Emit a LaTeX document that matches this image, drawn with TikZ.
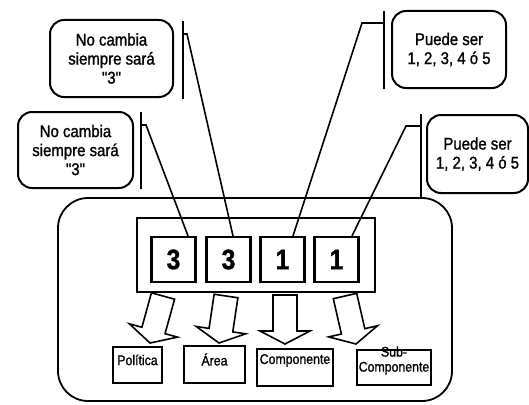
\documentclass[tikz,border=0pt]{standalone}
\usepackage{fontspec}
\setmainfont{Liberation Sans}
\newfontfamily\narrowsf{Liberation Sans}[FakeStretch=0.88,FakeBold=1.2]
\usetikzlibrary{calc}

\newcommand{\blockarrow}[2]{%
  \coordinate (h) at ($(#2)!13pt!(#1)$);
  \draw[blk] ($(#1)!12pt!90:(#2)$) -- ($(h)!12pt!90:(#2)$) -- ($(h)!25pt!90:(#2)$) -- (#2)
    -- ($(h)!25pt!-90:(#2)$) -- ($(h)!12pt!-90:(#2)$) -- ($(#1)!12pt!-90:(#2)$) -- cycle;}

\begin{document}
\begin{tikzpicture}[x=1pt,y=-1pt,
    callout/.style={draw,line width=2pt,rounded corners=14pt,align=center,inner sep=0pt,
      font=\narrowsf\fontsize{17}{19}\selectfont},
    accent/.style={line width=1.8pt},
    leader/.style={line width=1.6pt},
    digit/.style={draw,line width=2.2pt,minimum width=44pt,minimum height=45pt,inner sep=0pt,
      font=\narrowsf\bfseries\fontsize{28}{30}\selectfont},
    part/.style={draw,line width=1.6pt,inner sep=0pt},
    partlbl/.style={align=center,inner sep=0pt,font=\narrowsf\fontsize{14}{15}\selectfont},
    blk/.style={draw,line width=1.6pt,fill=white,line join=miter}]

  \useasboundingbox (0,0) rectangle (529,404);

  \node[draw,line width=1.8pt,rounded corners=30pt,minimum width=394pt,minimum height=203pt] (frame) at (255,299.5) {};
  \node[draw,line width=1.8pt,minimum width=238pt,minimum height=74pt] (reg) at (256,255) {};

  \node[digit] (d1) at (173.5,259.5) {3};
  \node[digit] (d2) at (228.5,259.5) {3};
  \node[digit] (d3) at (282.5,259.5) {1};
  \node[digit] (d4) at (336.5,259.5) {1};

  \node[part,minimum width=49pt,minimum height=36pt,label={[partlbl,yshift=5pt]center:Política}] (pol) at (137.5,365) {};
  \node[part,minimum width=61pt,minimum height=37pt,label={[partlbl,yshift=5pt]center:Área}] (area) at (214.5,364.5) {};
  \node[part,minimum width=76pt,minimum height=37pt,label={[partlbl,yshift=7pt]center:Componente}] (comp) at (295,367.5) {};
  \node[part,minimum width=74pt,minimum height=35pt,label={[partlbl,yshift=7pt]center:{Sub-\\Componente}}] (sub) at (394,367.5) {};

  \coordinate (a1) at (163,296); \coordinate (t1) at (150,343);
  \coordinate (a2) at (226,296); \coordinate (t2) at (219,343);
  \coordinate (a3) at (285,295); \coordinate (t3) at (285,344);
  \coordinate (a4) at (345,296); \coordinate (t4) at (356,344);
  \blockarrow{a1}{t1}
  \blockarrow{a2}{t2}
  \blockarrow{a3}{t3}
  \blockarrow{a4}{t4}

  \node[callout,minimum width=123pt,minimum height=77pt] (c1) at (111.5,58.5) {No cambia\\siempre sará\\"3"};
  \node[callout,minimum width=115pt,minimum height=76pt] (c2) at (75.5,150) {No cambia\\siempre sará\\"3"};
  \node[callout,minimum width=114pt,minimum height=77pt] (c3) at (449,49.5) {Puede ser\\1, 2, 3, 4 ó 5};
  \node[callout,minimum width=101pt,minimum height=78pt] (c4) at (477.5,154) {Puede ser\\1, 2, 3, 4 ó 5};

  \draw[accent] ([xshift=9pt,yshift=-2pt]c1.north east) -- ([xshift=9pt,yshift=-1pt]c1.south east);
  \draw[accent] ([xshift=7pt,yshift=-1pt]c2.north east) -- ([xshift=7pt]c2.south east);
  \draw[accent] ([xshift=-7pt,yshift=-1pt]c3.north west) -- ([xshift=-7pt]c3.south west);
  \draw[accent] ([xshift=-5pt]c4.north west) -- ([xshift=-5pt,yshift=-4pt]c4.south west);

  \draw[leader] ([xshift=9pt,yshift=-15pt]c1.north east) -- ++(4,0) -- ([xshift=4.5pt]d2.north);
  \draw[leader] ([xshift=7pt,yshift=-14pt]c2.north east) -- ++(5,0) -- ([xshift=14.5pt]d1.north);
  \draw[leader] ([xshift=-7pt,yshift=-13pt]c3.north west) -- ++(-22,0) -- ([xshift=10.5pt]d3.north);
  \draw[leader] ([xshift=-5pt,yshift=-12pt]c4.north west) -- ++(-15,0) -- ([xshift=15.5pt]d4.north);
\end{tikzpicture}
\end{document}
